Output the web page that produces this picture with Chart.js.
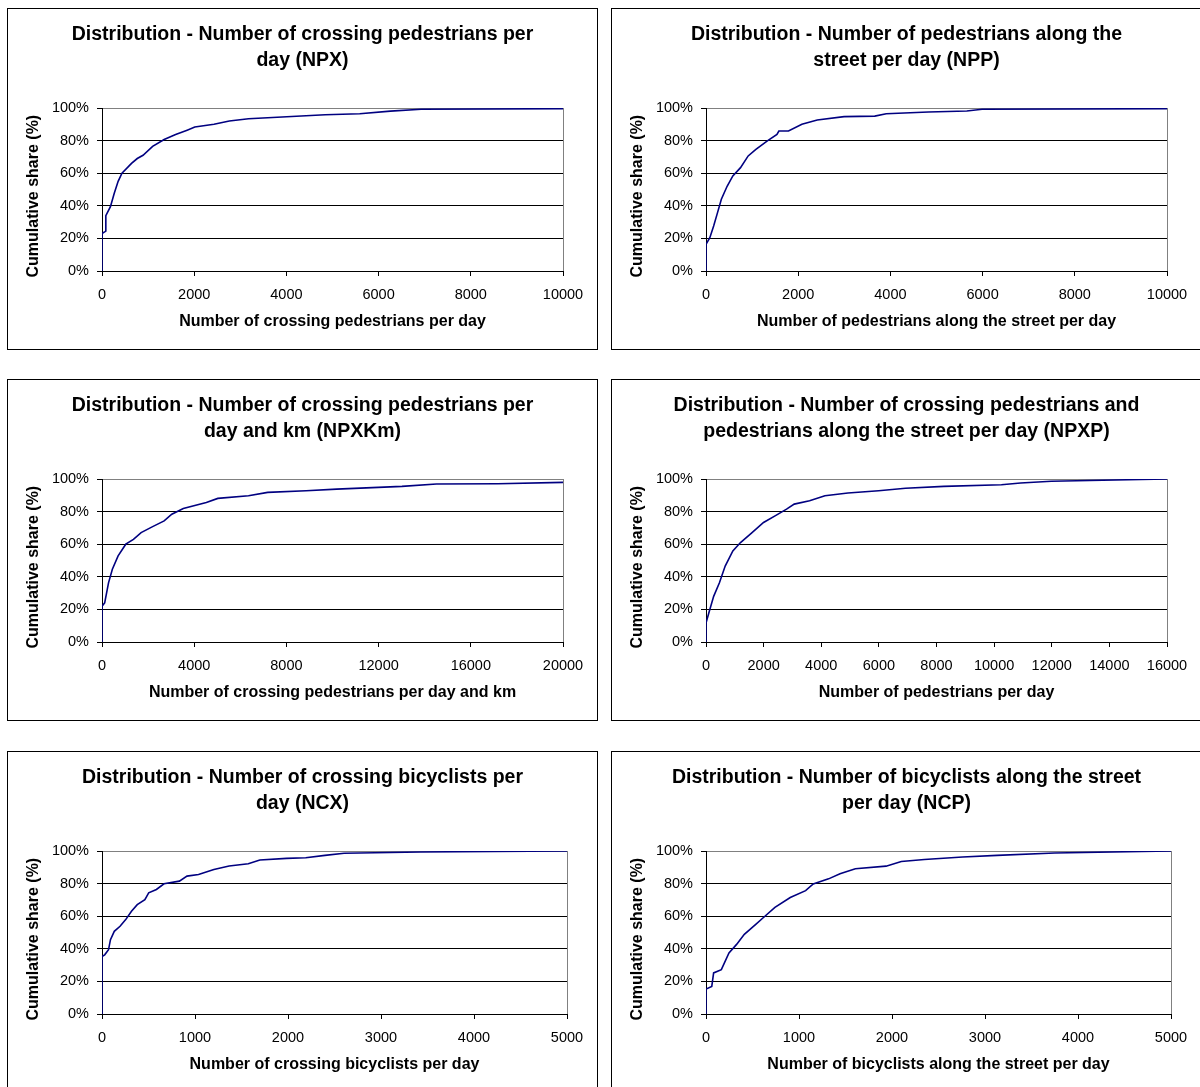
<!DOCTYPE html>
<html>
<head>
<meta charset="utf-8">
<script src="https://cdn.jsdelivr.net/npm/chart.js@4.4.1/dist/chart.umd.min.js"></script>
<style>
    html, body { margin: 0; padding: 0; background: #fff; overflow: hidden; width: 1200px; height: 1087px; }
    .panel { position: absolute; width: 591px; height: 342px; box-sizing: border-box; border: 1px solid #000; background: #fff; }
    .panel canvas { display: block; }
</style>
</head>
<body>
<div class="panel" style="left:7px;top:8px"><canvas id="c1" width="589" height="340"></canvas></div>
<div class="panel" style="left:611px;top:8px"><canvas id="c2" width="589" height="340"></canvas></div>
<div class="panel" style="left:7px;top:379px"><canvas id="c3" width="589" height="340"></canvas></div>
<div class="panel" style="left:611px;top:379px"><canvas id="c4" width="589" height="340"></canvas></div>
<div class="panel" style="left:7px;top:751px"><canvas id="c5" width="589" height="340"></canvas></div>
<div class="panel" style="left:611px;top:751px"><canvas id="c6" width="589" height="340"></canvas></div>

<script>
// values (x = count per day, y = cumulative share %)
const npxX = [0, 0, 58, 83, 83, 183, 266, 350, 433, 640, 765, 890, 1098, 1348, 1597, 1847, 2013, 2429, 2762, 3178, 4010, 4842, 5591, 6256, 6922, 10000];
const npxY = [0, 23, 24, 24.5, 34, 39.5, 47.7, 55, 60, 66, 69, 71, 76.5, 80.7, 83.7, 86.4, 88.3, 90, 92, 93.4, 94.6, 95.9, 96.5, 98.1, 99.2, 99.6];

const nppX = [0, 0, 83, 166, 250, 333, 458, 582, 749, 915, 1082, 1331, 1539, 1581, 1789, 2080, 2413, 2995, 3661, 3910, 4825, 5657, 5990, 10000];
const nppY = [0, 16.4, 20.4, 27.6, 35.8, 44, 52, 58.3, 63.4, 70.6, 74.6, 79.8, 83.8, 85.9, 85.9, 90, 92.6, 94.7, 95, 96.5, 97.5, 98.2, 99.2, 99.6];

const npxkmX = [0, 0, 116, 283, 449, 699, 1032, 1364, 1697, 2196, 2696, 3028, 3527, 4526, 5025, 6356, 7188, 8852, 10183, 13012, 14509, 17171, 20000];
const npxkmY = [0, 22, 24, 36.3, 44.6, 52.8, 60, 63, 67.1, 70.8, 74.3, 78.4, 81.9, 85.6, 88.1, 89.7, 91.8, 92.8, 93.8, 95.5, 96.9, 97.1, 97.9];

const npxpX = [0, 0, 133, 266, 466, 666, 932, 1198, 1598, 1997, 2397, 2796, 3063, 3595, 4128, 4927, 5992, 6924, 8256, 10253, 10919, 11984, 16000];
const npxpY = [0, 11.7, 19.9, 28, 36.3, 46.6, 55.9, 61, 67.1, 73.3, 77.4, 81.5, 84.6, 86.7, 89.7, 91.4, 92.8, 94.3, 95.5, 96.5, 97.5, 98.6, 100];

const ncxX = [0, 0, 29, 70, 91, 132, 194, 255, 317, 379, 461, 502, 585, 667, 832, 914, 1038, 1203, 1367, 1573, 1697, 1985, 2191, 2397, 2603, 3427, 5000];
const ncxY = [0, 35.3, 36.3, 39.4, 45.6, 50.7, 53.8, 57.9, 63, 67.1, 70.2, 74.3, 76.4, 79.9, 81.5, 84.6, 85.6, 88.7, 90.8, 92.2, 94.5, 95.5, 95.9, 97.3, 98.6, 99.4, 100];

const ncpX = [0, 0, 62, 82, 165, 247, 329, 412, 535, 618, 741, 906, 1071, 1153, 1318, 1441, 1606, 1936, 2100, 2348, 2759, 3130, 3748, 5000];
const ncpY = [0, 15.3, 16.9, 25.2, 27.2, 37.5, 42.7, 48.9, 55, 59.2, 65.4, 71.5, 75.7, 79.8, 82.9, 86, 89.1, 90.7, 93.6, 94.8, 96.3, 97.3, 98.8, 100];

// tick labels
const yTicks = [0, 20, 40, 60, 80, 100];
const ticks10k = [0, 2000, 4000, 6000, 8000, 10000];
const ticks20k = [0, 4000, 8000, 12000, 16000, 20000];
const ticks16k = [0, 2000, 4000, 6000, 8000, 10000, 12000, 14000, 16000];
const ticks5k = [0, 1000, 2000, 3000, 4000, 5000];

const FONT = 'Arial, "Liberation Sans", sans-serif';
const NBSP = '\u00a0';

function makeChart(id, title, xTitle, xs, ys, xTicks, rightGap) {
    const pts = xs.map((x, i) => ({ x: x, y: ys[i] }));
    const xMax = xTicks[xTicks.length - 1];
    new Chart(document.getElementById(id), {
        type: 'scatter',
        data: {
            datasets: [{
                data: pts,
                xAxisID: 'x',
                yAxisID: 'y',
                showLine: true,
                borderColor: '#000080',
                borderWidth: 1.6,
                pointRadius: 0,
                tension: 0
            }]
        },
        options: {
            responsive: false,
            animation: false,
            devicePixelRatio: 1,
            layout: { padding: 0 },
            plugins: {
                legend: { display: false },
                tooltip: { enabled: false },
                title: {
                    display: true,
                    text: title,
                    color: '#000',
                    font: { family: FONT, size: 19.5, weight: 'bold', lineHeight: 26 / 19.5 },
                    padding: { top: 13, bottom: 34 }
                }
            },
            scales: {
                x: {
                    type: 'linear',
                    min: 0,
                    max: xMax,
                    afterBuildTicks: s => { s.ticks = xTicks.map(v => ({ value: v })); },
                    afterFit: s => { s.height = 78; },
                    border: { color: '#000', width: 1 },
                    grid: {
                        color: c => (c.tick && c.tick.value === xMax) ? '#808080' : 'rgba(0,0,0,0)',
                        tickColor: '#000',
                        tickLength: 5,
                        lineWidth: 1
                    },
                    ticks: {
                        color: '#000', font: { family: FONT, size: 14.5 }, padding: 10,
                        maxRotation: 0, autoSkip: false, callback: v => String(v)
                    },
                    title: {
                        display: true,
                        text: xTitle,
                        color: '#000',
                        font: { family: FONT, size: 16, weight: 'bold', lineHeight: 1.2 },
                        padding: { top: 0, bottom: 17.4 }
                    }
                },
                y: {
                    min: 0,
                    max: 100,
                    afterBuildTicks: s => { s.ticks = yTicks.map(v => ({ value: v })); },
                    afterFit: s => { s.width = 94; },
                    border: { color: '#000', width: 1 },
                    grid: {
                        color: c => {
                            if (!c.tick) return '#000';
                            if (c.tick.value === 100) return '#808080';
                            if (c.tick.value === 0) return 'rgba(0,0,0,0)';
                            return '#000';
                        },
                        tickColor: '#000',
                        tickLength: 5,
                        lineWidth: 1
                    },
                    ticks: { color: '#000', font: { family: FONT, size: 14.5 }, padding: 8, callback: v => v + '%' },
                    title: {
                        display: true,
                        // trailing spaces push the title a little below the plot centre, as in the original
                        text: 'Cumulative share (%)' + NBSP + NBSP + NBSP,
                        color: '#000',
                        font: { family: FONT, size: 16, weight: 'bold', lineHeight: 1.2 },
                        padding: { top: 16.4, bottom: 0 }
                    }
                },
                // empty right axis: keeps the gap right of the plot while the title stays centred on the box
                yRight: {
                    position: 'right',
                    min: 0,
                    max: 100,
                    afterFit: s => { s.width = rightGap; },
                    grid: { display: false },
                    border: { display: false },
                    ticks: { display: false }
                }
            }
        }
    });
}

makeChart('c1', ['Distribution - Number of crossing pedestrians per', 'day (NPX)'],
    'Number of crossing pedestrians per day', npxX, npxY, ticks10k, 34);
makeChart('c2', ['Distribution - Number of pedestrians along the', 'street per day (NPP)'],
    'Number of pedestrians along the street per day', nppX, nppY, ticks10k, 34);
makeChart('c3', ['Distribution - Number of crossing pedestrians per', 'day and km (NPXKm)'],
    'Number of crossing pedestrians per day and km', npxkmX, npxkmY, ticks20k, 34);
makeChart('c4', ['Distribution - Number of crossing pedestrians and', 'pedestrians along the street per day (NPXP)'],
    'Number of pedestrians per day', npxpX, npxpY, ticks16k, 34);
makeChart('c5', ['Distribution - Number of crossing bicyclists per', 'day (NCX)'],
    'Number of crossing bicyclists per day', ncxX, ncxY, ticks5k, 30);
makeChart('c6', ['Distribution - Number of bicyclists along the street', 'per day (NCP)'],
    'Number of bicyclists along the street per day', ncpX, ncpY, ticks5k, 30);
</script>
</body>
</html>
